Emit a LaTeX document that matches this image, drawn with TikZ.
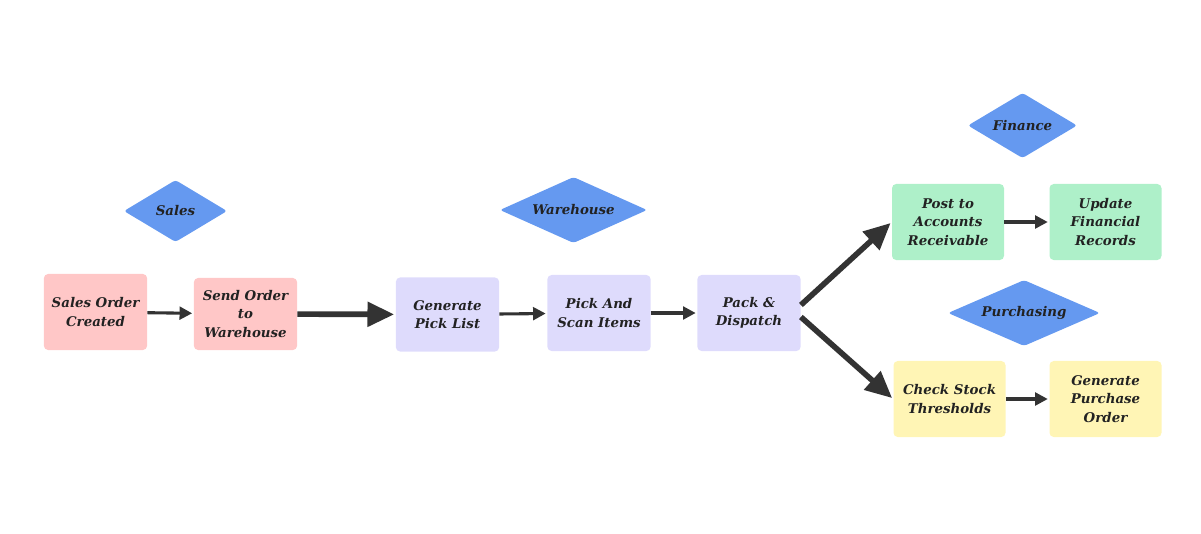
\documentclass[tikz,border=0pt]{standalone}
\usepackage{fontspec}
\setmainfont{DejaVu Serif}
\usepackage{tikz}
\usetikzlibrary{shapes.geometric,arrows.meta}
\definecolor{salespink}{HTML}{FFC7C7}
\definecolor{whlilac}{HTML}{DEDBFC}
\definecolor{fingreen}{HTML}{AEF0C9}
\definecolor{puryellow}{HTML}{FFF5B5}
\definecolor{teamblue}{HTML}{6599F0}
\definecolor{arrowgrey}{HTML}{333333}
\definecolor{labelgrey}{HTML}{222222}

\begin{document}
\begin{tikzpicture}[x=0.025cm,y=-0.025cm,
  task/.style={rounded corners=3pt,minimum width=2.58cm,minimum height=1.85cm,
    align=center,inner sep=1pt,text=labelgrey,
    font=\fontsize{9.5}{13}\selectfont\bfseries\itshape},
  wide task/.style={task,minimum width=2.8cm,minimum height=1.9cm},
  team/.style={diamond,fill=teamblue,rounded corners=2pt,inner sep=0pt,
    aspect=2.3,text=labelgrey,font=\fontsize{9.5}{11}\selectfont\bfseries\itshape},
  flow/.style={draw=arrowgrey,line width=2.2pt,
    -{Triangle[length=9pt,width=9pt]},shorten >=1pt},
  bigflow/.style={draw=arrowgrey,line width=4pt,
    -{Triangle[length=19pt,width=17pt]},shorten >=1pt}]
 \useasboundingbox (0,0) rectangle (1201,533);

 % teams
 \node[team,minimum width=2.58cm,minimum height=1.55cm] (sales) at (175.5,211) {Sales};
 \node[team,minimum width=3.68cm,minimum height=1.65cm] (warehouse) at (573.5,210) {Warehouse};
 \node[team,minimum width=2.73cm,minimum height=1.63cm] (finance) at (1022.5,125.5) {Finance};
 \node[team,minimum width=3.8cm,minimum height=1.65cm] (purchasing) at (1024,313) {Purchasing};

 % sales
 \node[task,fill=salespink,minimum height=1.9cm] (created) at (95.5,312) {Sales Order\\Created};
 \node[task,fill=salespink,minimum height=1.8cm] (send) at (245.5,314) {Send Order\\to\\Warehouse};

 % warehouse
 \node[task,fill=whlilac] (picklist) at (447.5,314.5) {Generate\\Pick List};
 \node[task,fill=whlilac,minimum height=1.9cm] (scan) at (599,313) {Pick And\\Scan Items};
 \node[task,fill=whlilac,minimum height=1.9cm] (dispatch) at (749,313) {Pack \&\\Dispatch};

 % finance
 \node[wide task,fill=fingreen] (receivable) at (948,222) {Post to\\Accounts\\Receivable};
 \node[wide task,fill=fingreen] (records) at (1105.5,222) {Update\\Financial\\Records};

 % purchasing
 \node[wide task,fill=puryellow] (stock) at (949.5,399) {Check Stock\\Thresholds};
 \node[wide task,fill=puryellow] (order) at (1105.5,399) {Generate\\Purchase\\Order};

 \draw[flow] (created) -- (send);
 \draw[bigflow] (send) -- (picklist);
 \draw[flow] (picklist) -- (scan);
 \draw[flow] (scan) -- (dispatch);
 \draw[bigflow] ([yshift=0.2cm]dispatch.east) -- (receivable.west);
 \draw[bigflow] ([yshift=-0.1cm]dispatch.east) -- (stock.west);
 \draw[flow] (receivable) -- (records);
 \draw[flow] (stock) -- (order);

\end{tikzpicture}
\end{document}
